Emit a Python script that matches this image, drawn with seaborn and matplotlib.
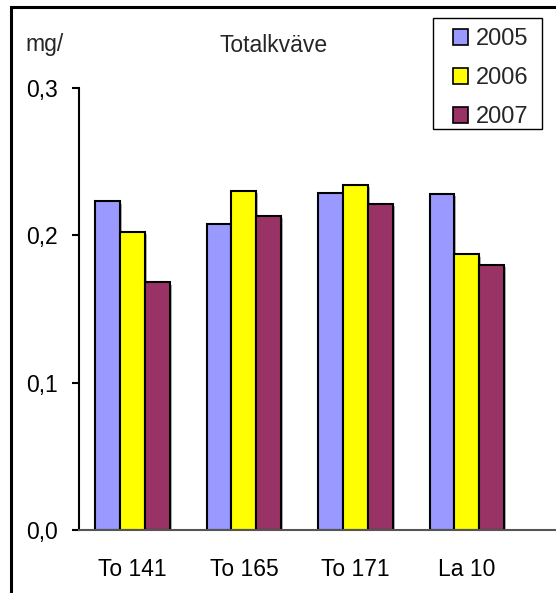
import matplotlib
matplotlib.use("Agg")
import matplotlib.pyplot as plt
import matplotlib.patheffects as pe
from matplotlib.patches import Patch, Rectangle
import seaborn as sns
import pandas as pd

sites = ["To 141", "To 165", "To 171", "La 10"]
years = ["2005", "2006", "2007"]
v2005 = [0.223, 0.208, 0.229, 0.228]
v2006 = [0.202, 0.230, 0.234, 0.187]
v2007 = [0.168, 0.213, 0.221, 0.180]
colors = ["#9999FF", "#FFFF00", "#993366"]
yticks = [0.0, 0.1, 0.2, 0.3]
ytick_labels = ["0,0", "0,1", "0,2", "0,3"]

rows = []
for y, vals in zip(years, [v2005, v2006, v2007]):
    for s, v in zip(sites, vals):
        rows.append({"site": s, "year": y, "value": v})
df = pd.DataFrame(rows)

sns.set_theme(style="white")
plt.rcParams["font.family"] = ["Liberation Sans", "DejaVu Sans"]

fig = plt.figure(figsize=(5.56, 5.93), dpi=100)
ax = fig.add_axes([79/556, 1-530/593, 1-79/556, (530-88)/593])

sns.barplot(data=df, x="site", y="value", hue="year", palette=colors,
            saturation=1, width=0.67, edgecolor="black", linewidth=1.5,
            ax=ax, legend=False, errorbar=None)
for p in ax.patches:
    p.set_path_effects([pe.SimplePatchShadow(offset=(1.5, -1.5), shadow_rgbFace="gray", alpha=0.6), pe.Normal()])

ax.set_xlim(-0.48, 3.8)
ax.set_ylim(0, 0.3)
ax.set_yticks(yticks)
ax.set_yticklabels(ytick_labels)
ax.set_xlabel("")
ax.set_ylabel("")
for s in ["top", "right"]:
    ax.spines[s].set_visible(False)
ax.spines["left"].set_color("black")
ax.spines["left"].set_linewidth(1.5)
ax.spines["bottom"].set_color("#555555")
ax.spines["bottom"].set_linewidth(1.5)
ax.tick_params(axis="y", which="both", left=True, length=5, width=1.5, color="black",
               direction="out", pad=10.5, labelsize=16.5, labelcolor="black")
ax.tick_params(axis="x", bottom=False, pad=14, labelsize=16.5, labelcolor="black")
ax.grid(False)

fig.text(274/556, 1-45/593, "Totalkväve", ha="center", va="center", fontsize=16.5)
fig.text(25/556, 1-45/593, "mg/", ha="left", va="center", fontsize=16.5)

handles = [Patch(facecolor=c, edgecolor="black", linewidth=1.2) for c in colors]
leg = fig.legend(handles, years, loc="upper left",
                 bbox_to_anchor=(453/556, 1-28/593), bbox_transform=fig.transFigure,
                 borderaxespad=0, borderpad=0, fontsize=17, handlelength=0.65,
                 handleheight=0.65, handletextpad=0.3, labelspacing=0.73,
                 frameon=False)

fig.patches.append(Rectangle((433/556, 1-129/593), (542-433)/556, (129-18)/593,
                             transform=fig.transFigure, fill=False,
                             edgecolor="black", linewidth=1.0))
fig.patches.append(Rectangle((10.5/556, -0.2), 2.0, 0.2 + 1 - 6.5/593,
                             transform=fig.transFigure, fill=False,
                             edgecolor="black", linewidth=2.2))

fig.savefig("out.png", dpi=100)
